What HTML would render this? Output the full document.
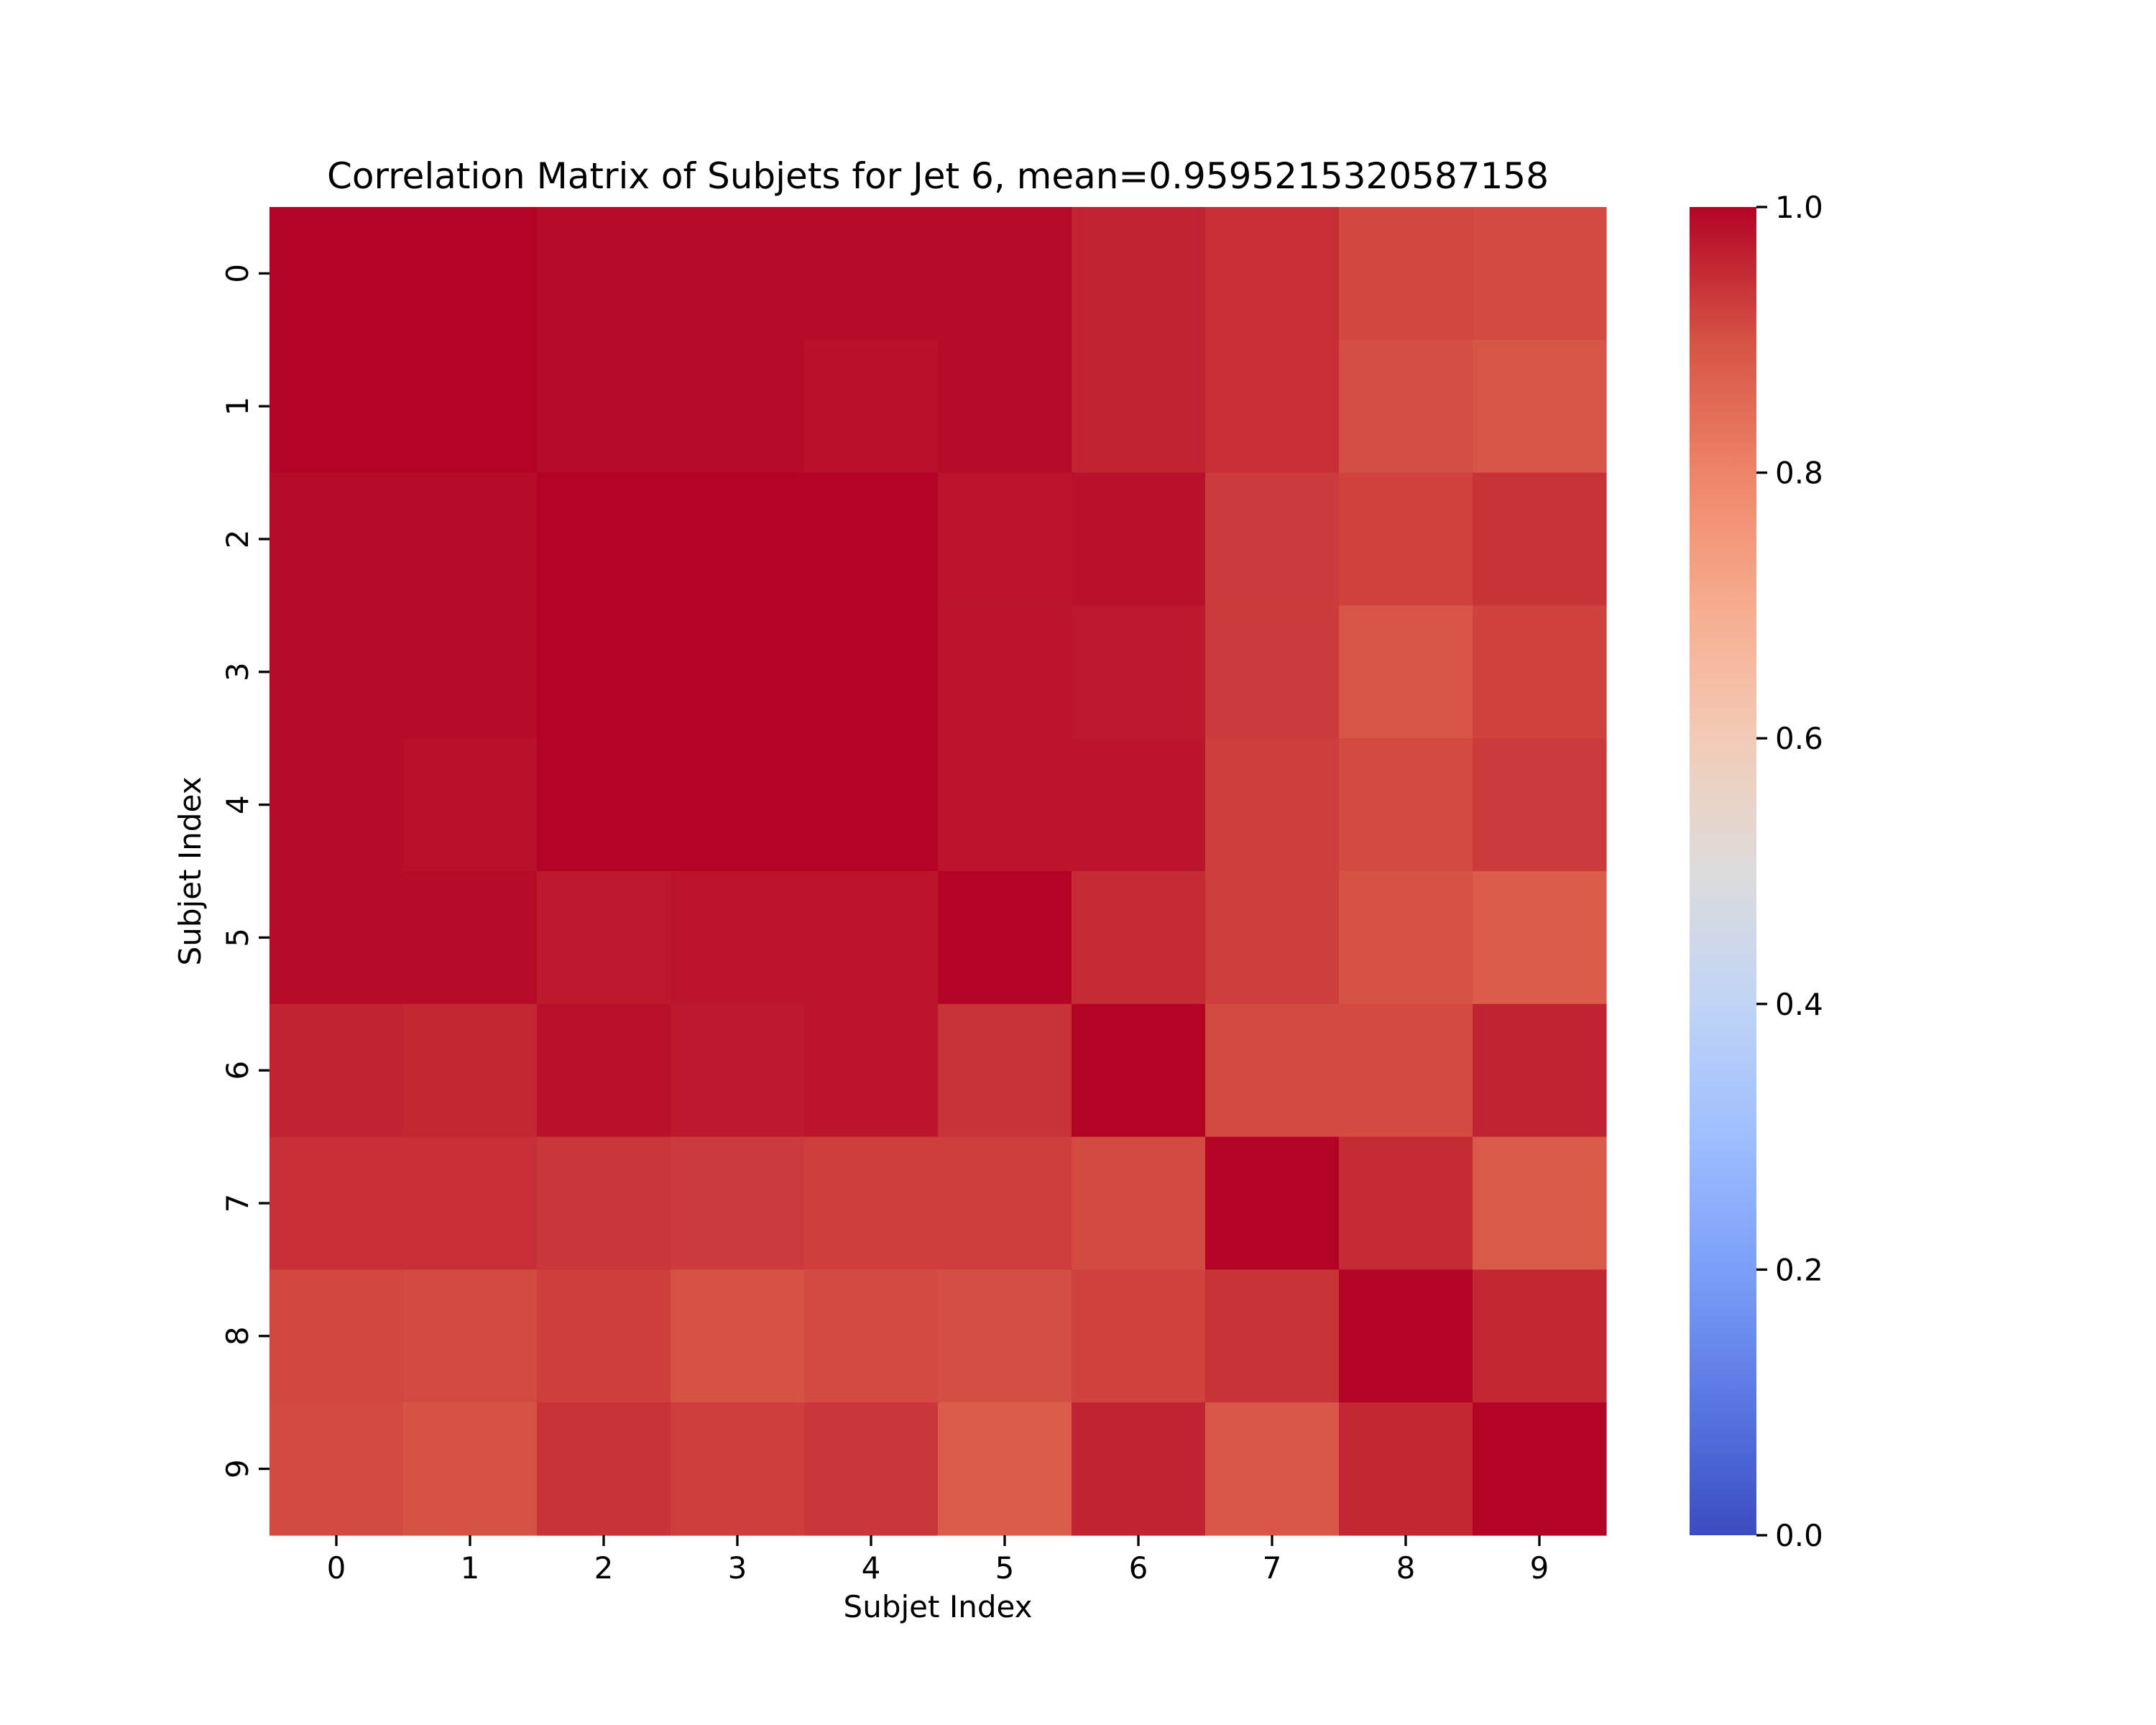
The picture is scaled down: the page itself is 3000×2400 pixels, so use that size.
<!DOCTYPE html>
<html><head><meta charset="utf-8"><style>
html,body{margin:0;padding:0;background:#fff;}
svg{display:block;font-family:"DejaVu Sans","Liberation Sans",sans-serif;}
</style></head><body>
<svg id="chart" width="3000" height="2400" viewBox="0 0 3000 2400" xmlns="http://www.w3.org/2000/svg">
<rect width="3000" height="2400" fill="#fff"/>
<text x="1305" y="262" font-size="50" text-anchor="middle" fill="#000">Correlation Matrix of Subjets for Jet 6, mean=0.9595215320587158</text>
<g id="cells"></g>
<g id="axes"></g>
<defs><linearGradient id="cbgrad" x1="0" y1="1" x2="0" y2="0"></linearGradient></defs>
<rect x="2351" y="288" width="93" height="1848" fill="url(#cbgrad)"/>
<g id="cbaxis"></g>
<text x="1305" y="2250" font-size="42" text-anchor="middle" fill="#000">Subjet Index</text>
<text x="0" y="0" font-size="42" text-anchor="middle" fill="#000" transform="translate(279,1212) rotate(-90)">Subjet Index</text>
</svg>
<script>
const categories = ["0","1","2","3","4","5","6","7","8","9"];
const row0 = [1.00,1.00,0.99,0.99,0.99,0.99,0.96,0.945,0.915,0.91];
const row1 = [1.00,1.00,0.99,0.99,0.985,0.99,0.96,0.945,0.905,0.895];
const row2 = [0.99,0.99,1.00,1.00,1.00,0.98,0.985,0.93,0.92,0.94];
const row3 = [0.99,0.99,1.00,1.00,1.00,0.98,0.975,0.93,0.895,0.92];
const row4 = [0.99,0.985,1.00,1.00,1.00,0.98,0.98,0.925,0.91,0.93];
const row5 = [0.99,0.99,0.975,0.98,0.98,1.00,0.95,0.925,0.90,0.88];
const row6 = [0.96,0.955,0.985,0.975,0.98,0.94,1.00,0.91,0.91,0.96];
const row7 = [0.945,0.945,0.935,0.93,0.925,0.925,0.91,1.00,0.95,0.885];
const row8 = [0.915,0.91,0.925,0.90,0.91,0.905,0.92,0.94,1.00,0.955];
const row9 = [0.91,0.90,0.94,0.925,0.935,0.88,0.96,0.89,0.955,1.00];
const colorbarTicks = [0.0,0.2,0.4,0.6,0.8,1.0];
const matrix = [row0,row1,row2,row3,row4,row5,row6,row7,row8,row9];

const NS = "http://www.w3.org/2000/svg";
const L=375,R=2235,T=288,B=2136,CB0=2351,CB1=2444;
const n = categories.length;
const cw=(R-L)/n, ch=(B-T)/n;
function xPos(i){return L+i*cw;}
function yPos(i){return T+i*ch;}
function cbY(v){return B-(B-T)*v;}
const stops=[[0,[59,76,192]],[0.1,[89,119,227]],[0.2,[123,159,249]],[0.3,[158,190,255]],[0.4,[192,212,245]],[0.5,[221,220,220]],[0.6,[242,203,183]],[0.7,[247,172,142]],[0.8,[238,132,104]],[0.9,[214,82,68]],[1.0,[180,4,38]]];
function cmap(v){
  v=Math.max(0,Math.min(1,v));
  for(let k=0;k<stops.length-1;k++){
    const a=stops[k],b=stops[k+1];
    if(v<=b[0]){const t=(v-a[0])/(b[0]-a[0]);
      const c=a[1].map((x,j)=>Math.round(x+(b[1][j]-x)*t));
      return "rgb("+c.join(",")+")";}
  }
  return "rgb(180,4,38)";
}
function mk(tag,attrs,parent){const e=document.createElementNS(NS,tag);for(const k in attrs)e.setAttribute(k,attrs[k]);parent.appendChild(e);return e;}
const cells=document.getElementById("cells");
matrix.forEach((row,r)=>row.forEach((v,c)=>{
  const e=mk("rect",{x:xPos(c),y:yPos(r),width:cw+0.6,height:ch+0.6,fill:cmap(v)},cells);
  
  
}));
const axes=document.getElementById("axes");
categories.forEach((lab,i)=>{
  const cx=xPos(i)+cw/2;
  const t1=mk("line",{x1:cx,y1:B,x2:cx,y2:B+15,stroke:"#000","stroke-width":3.3},axes);
  
  
  const tx=mk("text",{x:cx,y:B+60,"font-size":42,"text-anchor":"middle",fill:"#000"},axes);
  tx.textContent=lab;
  
  
  const cy=yPos(i)+ch/2;
  const t2=mk("line",{x1:L-15,y1:cy,x2:L,y2:cy,stroke:"#000","stroke-width":3.3},axes);
  
  
  const ty=mk("text",{x:0,y:0,"font-size":42,"text-anchor":"middle",fill:"#000",transform:"translate("+(L-30)+","+cy+") rotate(-90)"},axes);
  ty.textContent=lab;
  
  
});
const grad=document.getElementById("cbgrad");
for(let k=0;k<=20;k++){const v=k/20;mk("stop",{offset:v,"stop-color":cmap(v)},grad);}
const cba=document.getElementById("cbaxis");
colorbarTicks.forEach(v=>{
  const y=cbY(v);
  const l=mk("line",{x1:CB1,y1:y,x2:CB1+15,y2:y,stroke:"#000","stroke-width":3.3},cba);
  
  
  const t=mk("text",{x:CB1+26,y:y+15,"font-size":42,fill:"#000"},cba);
  t.textContent=v.toFixed(1);
  
  
});
</script>
</body></html>
